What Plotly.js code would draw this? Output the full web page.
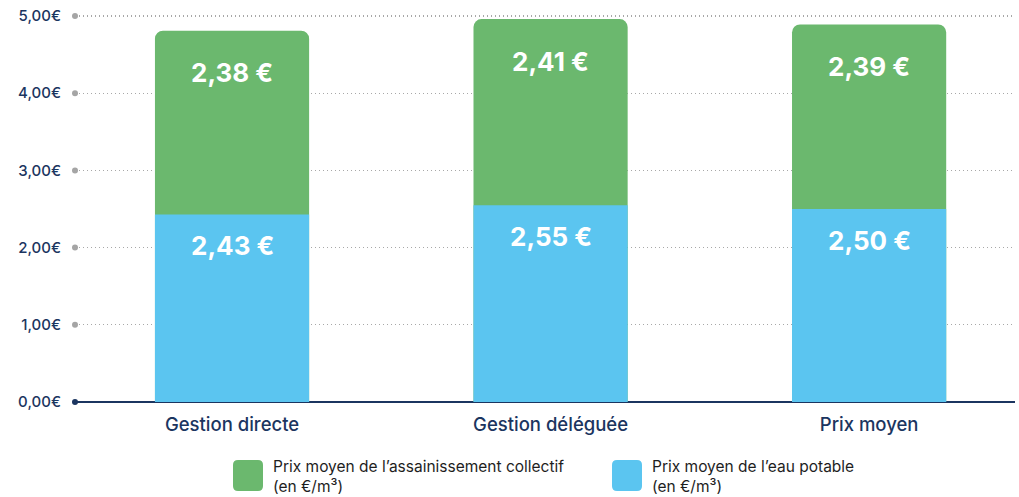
<!DOCTYPE html>
<html><head><meta charset="utf-8">
<script src="https://cdn.plot.ly/plotly-3.0.1.min.js"></script>
<style>html,body{margin:0;padding:0;background:#fff}</style>
</head><body>
<div id="chart" style="width:1019px;height:497px"></div>
<script>
const categories = ["Gestion directe", "Gestion déléguée", "Prix moyen"];
const eauPotable = [2.43, 2.55, 2.50];
const assainissement = [2.38, 2.41, 2.39];
const tickVals = [0, 1, 2, 3, 4, 5];
const tickText = ["0,00€", "1,00€", "2,00€", "3,00€", "4,00€", "5,00€"];
const legendNames = ["Prix moyen de l’assainissement collectif<br>(en €/m³)", "Prix moyen de l’eau potable<br>(en €/m³)"];

const GREEN = "#6bb86e", BLUE = "#5bc5f0", NAVY = "#1b3560";
const FONT = "Inter";
const fmt = v => v.toFixed(2).replace(".", ",") + " €";
const xi = categories.map((c, i) => i);
const totals = xi.map(i => eauPotable[i] + assainissement[i]);

const traces = [
  {type: "bar", x: xi, y: totals, width: 0.484,
   marker: {color: GREEN, cornerradius: 8}, hoverinfo: "skip", showlegend: false},
  {type: "bar", x: xi, y: eauPotable, width: 0.484,
   marker: {color: BLUE, cornerradius: 8}, hoverinfo: "skip", showlegend: false}
];

const annotations = [];
xi.forEach((x, i) => {
  annotations.push({x: x, y: totals[i], xref: "x", yref: "y", text: fmt(assainissement[i]),
    showarrow: false, yanchor: "middle", yshift: -42, font: {family: FONT, size: 26, color: "#fff", weight: 700}});
  annotations.push({x: x, y: eauPotable[i], xref: "x", yref: "y", text: fmt(eauPotable[i]),
    showarrow: false, yanchor: "middle", yshift: -31, font: {family: FONT, size: 26, color: "#fff", weight: 700}});
});

const W = 1019, H = 497, L = 75, R = 4, T = 14, B = 95;
const pw = W - L - R, ph = H - T - B;
const YMAX = 5 * ph / 386;
const px2x = p => (p - L) / pw;
const py2y = p => (H - B - p) / ph;

function roundRect(x0, y0, x1, y1, r) {
  const X = px2x, Y = py2y;
  return `M ${X(x0 + r)} ${Y(y0)} L ${X(x1 - r)} ${Y(y0)} Q ${X(x1)} ${Y(y0)} ${X(x1)} ${Y(y0 + r)} ` +
    `L ${X(x1)} ${Y(y1 - r)} Q ${X(x1)} ${Y(y1)} ${X(x1 - r)} ${Y(y1)} L ${X(x0 + r)} ${Y(y1)} ` +
    `Q ${X(x0)} ${Y(y1)} ${X(x0)} ${Y(y1 - r)} L ${X(x0)} ${Y(y0 + r)} Q ${X(x0)} ${Y(y0)} ${X(x0 + r)} ${Y(y0)} Z`;
}

const legendItems = [
  {color: GREEN, name: legendNames[0], px: 233},
  {color: BLUE, name: legendNames[1], px: 612}
];
const shapes = [];
legendItems.forEach(it => {
  shapes.push({type: "path", xref: "paper", yref: "paper", path: roundRect(it.px, 460, it.px + 30, 491, 5),
    fillcolor: it.color, line: {width: 0}, layer: "above"});
  annotations.push({xref: "paper", yref: "paper", x: px2x(it.px + 38), y: py2y(476),
    xanchor: "left", yanchor: "middle", align: "left", showarrow: false, text: it.name,
    font: {family: FONT, size: 15.5, color: "#1e1e1e", weight: 400}});
});
tickVals.forEach(v => {
  shapes.push({type: "circle", xref: "paper", yref: "paper", xsizemode: "pixel", ysizemode: "pixel",
    xanchor: 0, yanchor: v / YMAX, x0: -3, x1: 3, y0: -3, y1: 3,
    fillcolor: v === 0 ? NAVY : "#a5a5a5", line: {width: 0}, layer: "above"});
});

const layout = {
  width: W, height: H,
  margin: {l: L, r: R, t: T, b: B},
  paper_bgcolor: "#fff", plot_bgcolor: "#fff",
  barmode: "overlay",
  font: {family: FONT, color: NAVY},
  xaxis: {range: [-0.493, 2.458], tickvals: xi, ticktext: categories, showgrid: false,
    zeroline: false, showline: false, ticks: "", ticklabelstandoff: 9,
    tickfont: {family: FONT, size: 18.5, color: NAVY, weight: 500}, fixedrange: true},
  yaxis: {range: [0, YMAX], tickvals: tickVals, ticktext: tickText, showgrid: true,
    gridcolor: "#a8a8a8", griddash: "1px,3px", gridwidth: 1.2,
    zeroline: true, zerolinecolor: NAVY, zerolinewidth: 2,
    ticks: "", ticklabelstandoff: 13, tickfont: {family: FONT, size: 15, color: NAVY, weight: 500}, fixedrange: true},
  annotations: annotations,
  shapes: shapes,
  showlegend: false
};
Plotly.newPlot("chart", traces, layout, {displayModeBar: false, staticPlot: true});
</script>
</body></html>
